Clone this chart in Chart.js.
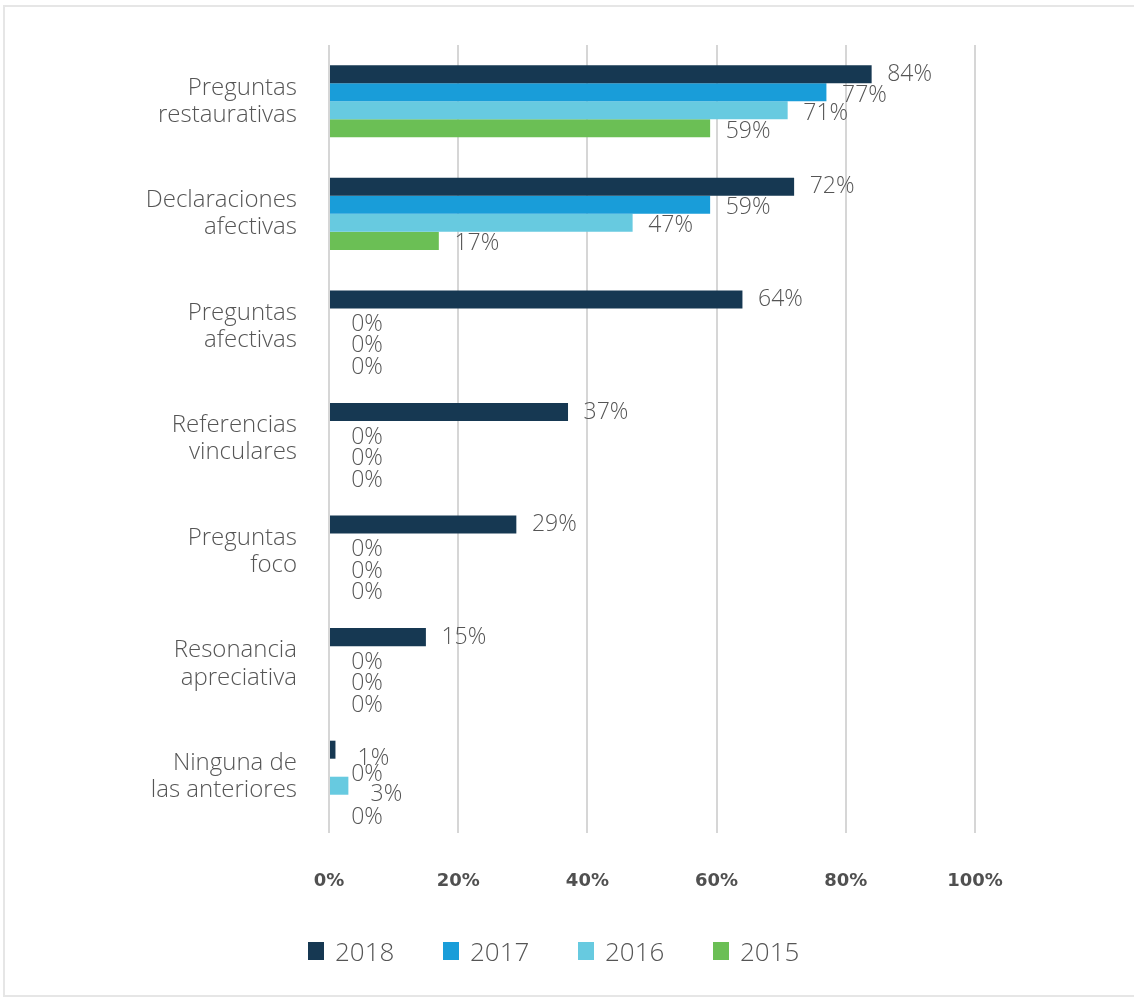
<!DOCTYPE html>
<html lang="es">
<head>
<meta charset="utf-8">
<script src="https://cdn.jsdelivr.net/npm/chart.js@4.4.1/dist/chart.umd.min.js"></script>
<style>
    body { margin: 0; background: #fff; overflow: hidden; }
    #wrap { position: relative; width: 1134px; height: 997px; overflow: hidden; }
    #frame {
        position: absolute; left: 3px; top: 5px; width: 1140px; height: 988px;
        border: 2px solid #e6e6e6;
    }
    #chart-box { position: absolute; left: 0; top: 0; width: 1134px; height: 997px; }
    #legend {
        position: absolute; left: 308px; top: 933px;
        display: flex;
        font-family: 'Open Sans', sans-serif; font-weight: 300; font-size: 26px; color: #555;
    }
    #legend .item { display: flex; align-items: center; width: 135px; }
    #legend .swatch { width: 16px; height: 18px; margin-right: 11px; }
</style>
</head>
<body>
<div id="wrap">
    <div id="frame"></div>
    <div id="chart-box"><canvas id="reasons-chart"></canvas></div>
    <div id="legend"></div>
</div>
<script>
const categories = [
    ['Preguntas', 'restaurativas'],
    ['Declaraciones', 'afectivas'],
    ['Preguntas', 'afectivas'],
    ['Referencias', 'vinculares'],
    ['Preguntas', 'foco'],
    ['Resonancia', 'apreciativa'],
    ['Ninguna de', 'las anteriores']
];
const years = ['2018', '2017', '2016', '2015'];
const values2018 = [84, 72, 64, 37, 29, 15, 1];
const values2017 = [77, 59, 0, 0, 0, 0, 0];
const values2016 = [71, 47, 0, 0, 0, 0, 3];
const values2015 = [59, 17, 0, 0, 0, 0, 0];
const colors = ['#163852', '#199dd9', '#67cae0', '#6bbf55'];

const seriesValues = [values2018, values2017, values2016, values2015];
const textColor = '#555555';

// percentage labels centred just past each bar end
const barValueLabels = {
    id: 'barValueLabels',
    afterDatasetsDraw(chart) {
        const ctx = chart.ctx;
        ctx.save();
        ctx.font = '300 23px "Open Sans", sans-serif';
        ctx.fillStyle = textColor;
        ctx.textAlign = 'center';
        ctx.textBaseline = 'middle';
        chart.data.datasets.forEach((ds, i) => {
            const meta = chart.getDatasetMeta(i);
            meta.data.forEach((bar, j) => {
                const v = ds.data[j];
                let shift = i === 0 ? 0 : 3;
                if (v === 0) shift = i * 3.5 + 3.5;
                else if (v < 5) shift = 9;
                ctx.fillText(v + '%', bar.x + 38, bar.y + shift);
            });
        });
        ctx.restore();
    }
};

const ctx = document.getElementById('reasons-chart');
new Chart(ctx, {
    type: 'bar',
    data: {
        labels: categories,
        datasets: years.map((year, i) => ({
            label: year,
            data: seriesValues[i],
            backgroundColor: colors[i],
            borderWidth: 0,
            categoryPercentage: 0.64,
            barPercentage: 1.0
        }))
    },
    options: {
        indexAxis: 'y',
        responsive: true,
        maintainAspectRatio: false,
        animation: false,
        layout: {
            padding: { top: 45, right: 159, bottom: 104, left: 0 }
        },
        plugins: {
            legend: { display: false },
            tooltip: { enabled: false }
        },
        scales: {
            x: {
                min: 0,
                max: 100,
                ticks: {
                    stepSize: 20,
                    padding: 38,
                    color: '#505050',
                    font: { family: '"DejaVu Sans", sans-serif', size: 18, weight: 'bold' },
                    callback: v => v + '%'
                },
                grid: { color: '#d6d6d6', lineWidth: 2, drawTicks: false },
                border: { display: false },
                afterFit: scale => {
                    scale.height = 60;
                    scale.paddingLeft = 0;
                    scale.paddingRight = 0;
                }
            },
            y: {
                ticks: {
                    padding: 32,
                    color: textColor,
                    font: { family: '"Open Sans", sans-serif', size: 24, weight: 300, lineHeight: 1.13 }
                },
                grid: { display: false, drawTicks: false },
                border: { display: false },
                afterFit: scale => {
                    scale.width = 329;
                    scale.paddingTop = 0;
                    scale.paddingBottom = 0;
                }
            }
        }
    },
    plugins: [barValueLabels]
});

const legend = document.getElementById('legend');
years.forEach((year, i) => {
    const item = document.createElement('div');
    item.className = 'item';
    const sw = document.createElement('span');
    sw.className = 'swatch';
    sw.style.background = colors[i];
    const txt = document.createElement('span');
    txt.textContent = year;
    item.appendChild(sw);
    item.appendChild(txt);
    legend.appendChild(item);
});
</script>
</body>
</html>
